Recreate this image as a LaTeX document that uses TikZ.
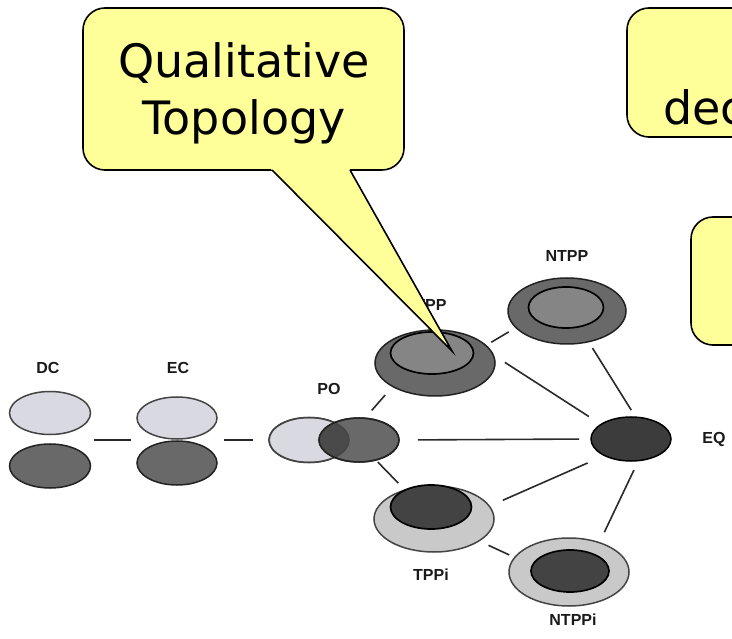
\documentclass[tikz,border=0pt]{standalone}
\usepackage{fontspec}
\setmainfont{DejaVu Sans}
\newfontfamily\labelfont{Liberation Sans}
\usetikzlibrary{shapes.geometric}
\definecolor{callyellow}{HTML}{FFFF99}
\definecolor{lightfill}{HTML}{D9D9E2}
\definecolor{lightedge}{HTML}{444444}
\definecolor{darkfill}{HTML}{696969}
\definecolor{darkedge}{HTML}{222222}
\definecolor{overlapfill}{HTML}{4A4A4A}
\definecolor{eqfill}{HTML}{3C3C3C}
\definecolor{innermid}{HTML}{858585}
\definecolor{ringlight}{HTML}{C9C9C9}
\definecolor{innerdark}{HTML}{434343}
\definecolor{connc}{HTML}{2A2A2A}
\definecolor{labelc}{HTML}{1A1A1A}
\tikzset{
  ell/.style={ellipse, inner sep=0pt, outer sep=0pt, line width=1.5pt},
  lightell/.style={ell, fill=lightfill, draw=lightedge},
  darkell/.style={ell, fill=darkfill, draw=darkedge},
  eqell/.style={ell, fill=eqfill, draw=black},
  midinner/.style={ell, fill=innermid, draw=black, line width=1.7pt},
  ringell/.style={ell, fill=ringlight, draw=lightedge},
  darkinner/.style={ell, fill=innerdark, draw=black, line width=1.7pt},
  conn/.style={draw=connc, line width=1.6pt},
  lbl/.style={font=\labelfont\bfseries\fontsize{16}{19}\selectfont, text=labelc, inner sep=0pt},
  callbox/.style={draw=black, line width=1.6pt, fill=callyellow, rounded corners=22pt, inner sep=0pt, outer sep=0pt},
  calltext/.style={font=\fontsize{46}{55}\selectfont, inner sep=0pt, anchor=base},
}
\begin{document}
\begin{tikzpicture}[x=1pt, y=-1pt]
\useasboundingbox (0,0) rectangle (732,639);
\clip (0,0) rectangle (732,639);
\fill[white] (0,0) rectangle (732,639);

% ---- DC ----
\node[lightell, minimum width=81pt, minimum height=43pt] (dcA) at (50,413) {};
\node[darkell, minimum width=81pt, minimum height=44pt] (dcB) at (50,466) {};
\node[minimum width=81pt, minimum height=97pt, inner sep=0pt, outer sep=0pt] (dc) at (50,440) {};
\node[lbl] (dcl) at (48,368) {DC};

% ---- EC ----
\node[lightell, minimum width=80pt, minimum height=42pt] (ecA) at (177,418) {};
\node[darkell, minimum width=80pt, minimum height=44pt] (ecB) at (177,463) {};
\node[minimum width=80pt, minimum height=88pt, inner sep=0pt, outer sep=0pt] (ec) at (177,440) {};
\node[lbl] (ecl) at (178,368) {EC};

% ---- PO ----
\node[lightell, minimum width=80pt, minimum height=45pt] (poA) at (309,440) {};
\node[darkell, minimum width=80pt, minimum height=44pt] (poB) at (359,440) {};
\begin{scope}
  \clip (309,440) ellipse (40 and 22.5);
  \fill[overlapfill] (359,440) ellipse (40 and 22);
\end{scope}
\draw[lightedge, line width=1.5pt] (309,440) ellipse (40 and 22.5);
\draw[darkedge, line width=1.5pt] (359,440) ellipse (40 and 22);
\node[minimum width=130pt, minimum height=45pt, inner sep=0pt, outer sep=0pt] (po) at (334,440) {};
\node[lbl] (pol) at (329,389) {PO};

% ---- TPP ----
\node[darkell, minimum width=120pt, minimum height=66pt] (tpp) at (435,363) {};
\node[midinner, minimum width=83pt, minimum height=42pt] (tppin) at (432,353) {};
\node[lbl] (tppl) at (431,305) {TPP};

% ---- NTPP ----
\node[darkell, minimum width=118pt, minimum height=66pt] (ntpp) at (567,311) {};
\node[midinner, minimum width=75pt, minimum height=41pt] (ntppin) at (566,307.5) {};
\node[lbl] (ntppl) at (567,256) {NTPP};

% ---- EQ ----
\node[eqell, minimum width=80pt, minimum height=44pt] (eq) at (631,439) {};
\node[lbl] (eql) at (714,439) {EQ};

% ---- TPPi ----
\node[ringell, minimum width=120pt, minimum height=66pt] (tppi) at (434,519) {};
\node[darkinner, minimum width=81pt, minimum height=44pt] (tppiin) at (431,507) {};
\node[lbl] (tppil) at (431,575) {TPPi};

% ---- NTPPi ----
\node[ringell, minimum width=120pt, minimum height=68pt] (ntppi) at (569,572) {};
\node[darkinner, minimum width=78pt, minimum height=42pt] (ntppiin) at (570,571) {};
\node[lbl] (ntppil) at (573,620) {NTPPi};

% ---- connectors ----
\draw[conn, shorten <=3pt, shorten >=6pt] (dc.east) -- (ec.west);
\draw[conn, shorten <=7pt, shorten >=16pt] (ec.east) -- (po.west);
\draw[conn, shorten <=10.5pt, shorten >=11.5pt] (poB.75) -- (tpp.209);
\draw[conn, shorten <=19pt, shorten >=12pt] (poB.east) -- (eq.west);
\draw[conn, shorten <=3pt, shorten >=9.8pt] (poB.310) -- (tppi.135);
\draw[conn, shorten <=6.3pt, shorten >=8.5pt] (tpp.19.6) -- (ntpp.198.6);
\draw[conn, shorten <=14pt, shorten >=14.5pt] (tpp.8.6) -- (eq.154);
\draw[conn, shorten <=7.5pt, shorten >=8.3pt] (ntpp.305.7) -- (eq.78.7);
\draw[conn, shorten <=14.8pt, shorten >=18.5pt] (tppi.13.2) -- (eq.212.6);
\draw[conn, shorten <=10.6pt, shorten >=6.1pt] (tppi.334.9) -- (ntppi.165.3);
\draw[conn, shorten <=11.6pt, shorten >=10.5pt] (ntppi.44.5) -- (eq.289.2);

% ---- callout: Qualitative Topology ----
\node[callbox, minimum width=321pt, minimum height=162pt] (qbox) at (243.5,89) {};
\coordinate (qtl) at (272,170);
\coordinate (qtr) at (350,170);
\coordinate (qtip) at (452,351);
\fill[callyellow] (270,168) -- (qtip) -- (349,168) -- cycle;
\draw[black, line width=1.6pt, line join=miter] (qtl) -- (qtip) -- (qtr);
\node[calltext] (qt1) at (244,78) {Qualitative};
\node[calltext] (qt2) at (244,135) {Topology};

% ---- callout cut at the right edge ----
\node[callbox, minimum width=260pt, minimum height=129pt] (dbox) at (757,72.5) {};
\node[calltext, anchor=base west] (dect) at (663,125) {dec};

% ---- third callout, cut at the right edge ----
\node[callbox, minimum width=200pt, minimum height=128pt] (ebox) at (791,281) {};
\end{tikzpicture}
\end{document}
